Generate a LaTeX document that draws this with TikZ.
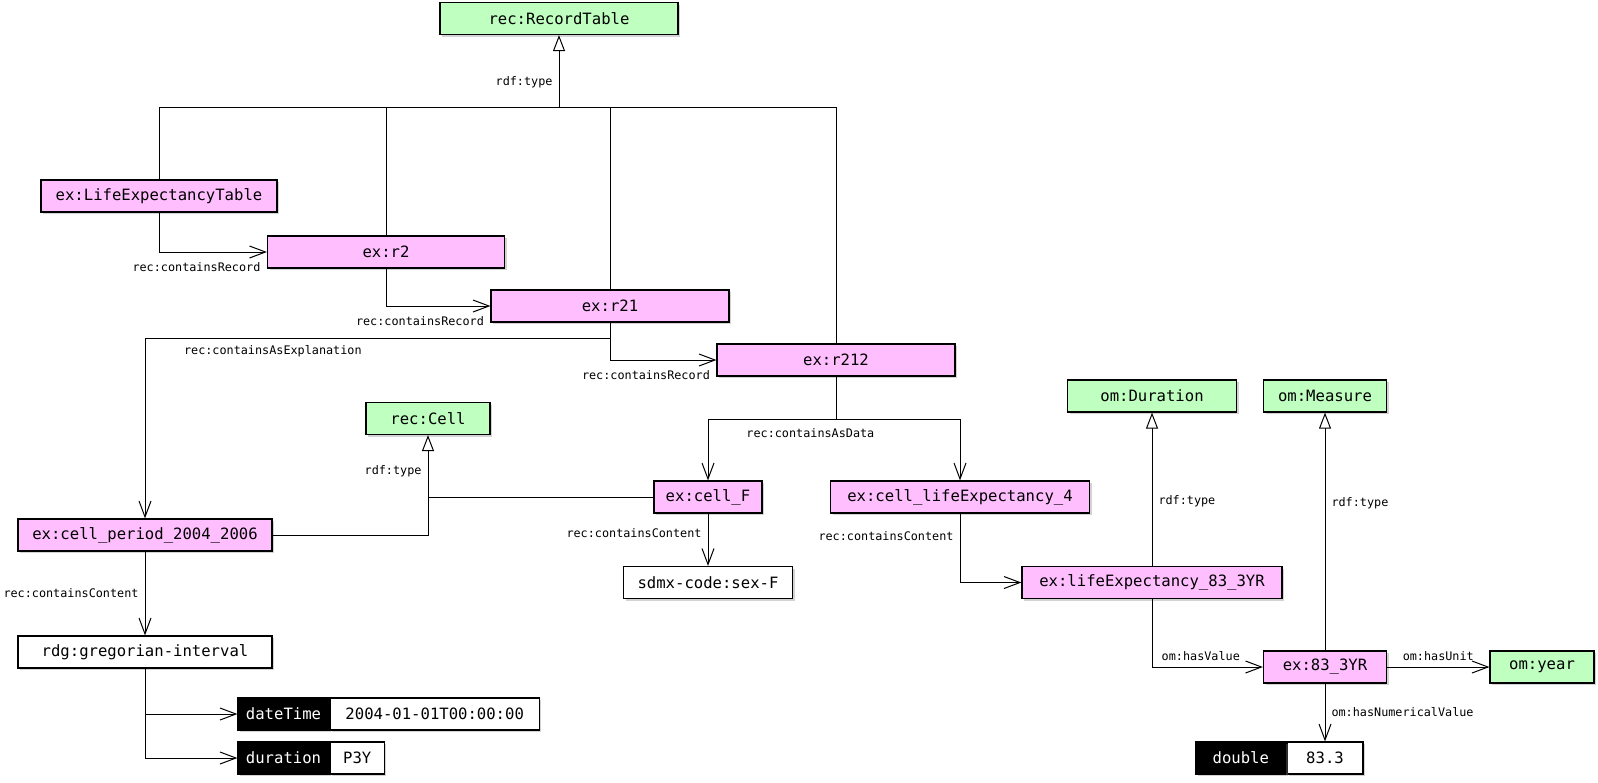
\documentclass[tikz,border=0pt]{standalone}
\usepackage{fontspec}
\usepackage{xcolor}
\usetikzlibrary{arrows.meta, positioning, shadows}
\setmonofont{DejaVu Sans Mono}
\definecolor{clsgreen}{HTML}{BFFFBF}
\definecolor{instpink}{HTML}{FFBFFF}

\begin{document}
\begin{tikzpicture}[
  on grid,
  nodebox/.style={rectangle, draw=black, line width=0.6pt, minimum height=16pt, inner sep=0pt, font=\ttfamily\fontsize{7.8}{9}\selectfont, drop shadow={shadow xshift=1pt, shadow yshift=-1pt, opacity=0.35}},
  cls/.style={nodebox, fill=clsgreen},
  inst/.style={nodebox, fill=instpink},
  lit/.style={nodebox, fill=white},
  litkey/.style={nodebox, fill=black, text=white},
  litval/.style={nodebox, fill=white, anchor=west},
  lbl/.style={font=\ttfamily\fontsize{5.9}{7}\selectfont, inner xsep=3pt, inner ysep=3pt},
  rel/.style={-{Straight Barb[length=8pt, width=6pt]}, line width=0.5pt},
  isa/.style={-{Triangle[fill=white, length=8pt, width=6pt]}, line width=0.5pt},
  link/.style={line width=0.5pt},
]
\useasboundingbox (0,0) rectangle (799pt,-391pt);

\node[cls, minimum width=119pt]    (RT)   at (279.5pt,-9.25pt)                 {rec:RecordTable};
\node[inst, minimum width=118pt]   (LET)  [below left=88.75pt and 200pt of RT]   {ex:LifeExpectancyTable};
\node[inst, minimum width=118.5pt] (R2)   [below right=28pt and 113.5pt of LET]  {ex:r2};
\node[inst, minimum width=119pt]   (R21)  [below right=27pt and 112pt of R2]     {ex:r21};
\node[inst, minimum width=119pt]   (R212) [below right=27pt and 113pt of R21]    {ex:r212};
\node[inst, minimum width=127pt]   (CP)   [below left=114.5pt and 232.5pt of R21] {ex:cell\_period\_2004\_2006};
\node[lit, minimum width=127pt]    (GI)   [below=58.5pt of CP]                   {rdg:gregorian-interval};
\node[cls, minimum width=62pt]     (Cell) [above right=58.25pt and 141.5pt of CP] {rec:Cell};
\node[inst, minimum width=54pt]    (CF)   [below left=68.5pt and 64pt of R212]   {ex:cell\_F};
\node[inst, minimum width=129.5pt] (CLE)  [right=126pt of CF]                    {ex:cell\_lifeExpectancy\_4};
\node[lit, minimum width=84.5pt]   (SF)   [below=42.75pt of CF]                  {sdmx-code:sex-F};
\node[inst, minimum width=130pt]   (LE)   [below right=42.75pt and 96pt of CLE]  {ex:lifeExpectancy\_83\_3YR};
\node[cls, minimum width=84.5pt]   (Dur)  [above=93.25pt of LE]                  {om:Duration};
\node[inst, minimum width=61.5pt]  (M)    [below right=42.25pt and 86.5pt of LE] {ex:83\_3YR};
\node[cls, minimum width=61.5pt]   (Meas) [above=135.5pt of M]                   {om:Measure};
\node[cls, minimum width=52pt]     (Yr)   [right=108.5pt of M]                   {om:year};

\node[litkey, minimum width=45.5pt] (DTk) [below right=31pt and 69.25pt of GI] {dateTime};
\node[litval, minimum width=104.5pt] (DTv) at (DTk.east) {2004-01-01T00:00:00};
\node[litkey, minimum width=45.5pt] (DUk) [below=22pt of DTk] {duration};
\node[litval, minimum width=27pt] (DUv) at (DUk.east) {P3Y};
\node[lit, minimum width=38pt] (DBv) [below=45.5pt of M] {83.3};
\node[litkey, minimum width=45pt, anchor=east] (DBk) at (DBv.west) {double};

% records share one line up to rec:RecordTable
\coordinate[below=36.25pt of RT.south] (bus);
\draw[isa] (bus) -- (RT) node[pos=0.35, left, lbl] {rdf:type};
\draw[link] (LET) |- (bus) -| (R212);
\draw[link] (R2) -- (R2 |- bus);
\draw[link] (R21) -- (R21 |- bus);

\draw[rel] (LET) |- (R2) node[pos=1, below left, yshift=-2pt, lbl] {rec:containsRecord};
\draw[rel] (R2) |- (R21) node[pos=1, below left, yshift=-2pt, lbl] {rec:containsRecord};
\draw[rel] (R21) |- (R212) node[pos=1, below left, yshift=-2pt, lbl] {rec:containsRecord};
\draw[rel] (R21.south) -- ++(0,-8pt) -| (CP) node[pos=0.465, below right, lbl] {rec:containsAsExplanation};

\draw[rel] (R212.south) -- ++(0,-21.5pt) -| (CF) node[pos=0.1, below, yshift=-1pt, lbl] {rec:containsAsData};
\draw[rel] (R212.south) -- ++(0,-21.5pt) -| (CLE);

\draw[isa] (CP) -| (Cell) node[pos=0.82, left, lbl] {rdf:type};
\draw[link] (CF) -- (CF -| Cell);

\draw[rel] (CF) -- (SF) node[pos=0.38, left, lbl] {rec:containsContent};
\draw[rel] (CLE) |- (LE) node[pos=0.16, left, lbl] {rec:containsContent};
\draw[rel] (CP) -- (GI) node[midway, left, lbl] {rec:containsContent};
\draw[rel] (GI) |- (DTk);
\draw[rel] (GI) |- (DUk);

\draw[isa] (LE) -- (Dur) node[pos=0.42, right, lbl] {rdf:type};
\draw[isa] (M) -- (Meas) node[pos=0.62, right, lbl] {rdf:type};
\draw[rel] (LE) |- (M) node[pos=0.72, above, lbl] {om:hasValue};
\draw[rel] (M) -- (Yr) node[midway, above, lbl] {om:hasUnit};
\draw[rel] (M) -- (DBv) node[midway, right, lbl] {om:hasNumericalValue};
\end{tikzpicture}
\end{document}
